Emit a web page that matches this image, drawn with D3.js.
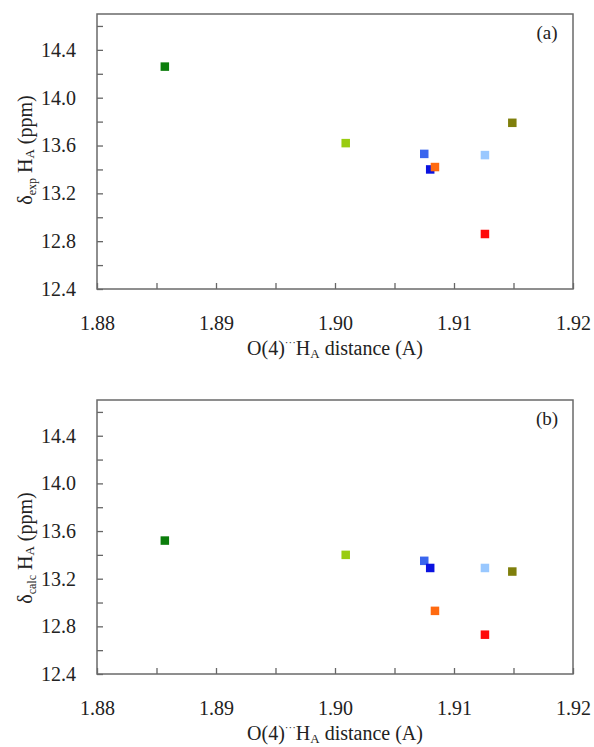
<!DOCTYPE html>
<html>
<head>
<meta charset="utf-8">
<script src="https://cdn.jsdelivr.net/npm/d3@7"></script>
<style>
  html, body { margin: 0; padding: 0; background: #fff; }
  svg { display: block; }
  svg text { font-family: "Liberation Serif", Tinos, "Times New Roman", Times, "DejaVu Serif", serif !important; fill: #222; }
</style>
</head>
<body>
<svg id="chart" width="594" height="747"></svg>
<script>
// O(4)···HA hydrogen-bond distance (Å) for each compound
const distances = [1.8857, 1.9009, 1.9075, 1.9080, 1.9084, 1.9126, 1.9126, 1.9149];
// experimental and calculated HA chemical shifts (ppm)
const expShift  = [14.26, 13.62, 13.53, 13.40, 13.42, 13.52, 12.86, 13.79];
const calcShift = [13.52, 13.40, 13.35, 13.29, 12.93, 13.29, 12.73, 13.26];
// marker colour per compound
const palette = ["#0b7d0b", "#99cc11", "#3a66ee", "#0a12e0", "#ff6a10", "#99c8ff", "#ff0a0a", "#7f7f0c"];
// axis ticks
const xMajor = [1.88, 1.89, 1.90, 1.91, 1.92];
const xMinor = [1.885, 1.895, 1.905, 1.915];
const yMajor = [12.4, 12.8, 13.2, 13.6, 14.0, 14.4];
const yMinor = [12.6, 13.0, 13.4, 13.8, 14.2, 14.6];

const svg = d3.select("#chart");
const left = 97, right = 573;

const panels = [
  { values: expShift,  sub: "exp",  tag: "(a)", top: 14,  bottom: 289, ylabY: 150 },
  { values: calcShift, sub: "calc", tag: "(b)", top: 400, bottom: 674, ylabY: 548 }
];

panels.forEach(p => {
  const x = d3.scaleLinear().domain([1.88, 1.92]).range([left, right]);
  const y = d3.scaleLinear().domain([12.4, 14.7]).range([p.bottom, p.top]);
  const g = svg.append("g");

  // x axis ticks pointing inward, labels on majors
  const xTicks = xMajor.concat(xMinor).sort(d3.ascending);
  const xAxis = d3.axisBottom(x).tickValues(xTicks).tickSize(-6).tickPadding(27)
    .tickFormat(d => xMajor.some(m => Math.abs(m - d) < 1e-9) ? d3.format(".2f")(d) : "");
  const gx = g.append("g").attr("transform", `translate(0,${p.bottom})`).call(xAxis);
  gx.select(".domain").remove();
  gx.selectAll("line").attr("stroke", "#666").attr("stroke-width", 1.3);
  gx.selectAll("text").attr("font-size", 20).attr("fill", "#222");

  const yTicks = yMajor.concat(yMinor).sort(d3.ascending);
  const yAxis = d3.axisLeft(y).tickValues(yTicks).tickSize(-6).tickPadding(21)
    .tickFormat(d => yMajor.some(m => Math.abs(m - d) < 1e-9) ? d3.format(".1f")(d) : "");
  const gy = g.append("g").attr("transform", `translate(${left},0)`).call(yAxis);
  gy.select(".domain").remove();
  gy.selectAll("line").attr("stroke", "#666").attr("stroke-width", 1.3);
  gy.selectAll("text").attr("font-size", 20).attr("fill", "#222");

  // plot frame
  g.append("rect")
    .attr("x", left).attr("y", p.top)
    .attr("width", right - left).attr("height", p.bottom - p.top)
    .attr("fill", "none").attr("stroke", "#6a6a6a").attr("stroke-width", 1.5);

  // markers
  const s = 8.5;
  g.selectAll("rect.pt").data(distances.map((d, i) => ({ d, v: p.values[i], c: palette[i] })))
    .join("rect").attr("class", "pt")
    .attr("x", o => x(o.d) - s / 2).attr("y", o => y(o.v) - s / 2)
    .attr("width", s).attr("height", s).attr("fill", o => o.c);

  // panel tag
  g.append("text").attr("x", 547).attr("y", p.top + 25)
    .attr("text-anchor", "middle").attr("font-size", 19).text(p.tag);

  // x axis title
  const xt = g.append("text").attr("x", (left + right) / 2).attr("y", p.bottom + 66)
    .attr("text-anchor", "middle").attr("font-size", 20);
  xt.append("tspan").text("O(4)");
  xt.append("tspan").attr("font-size", 11).attr("dy", -9).text("···");
  xt.append("tspan").attr("dy", 9).text("H");
  xt.append("tspan").attr("font-size", 13).attr("dy", 3).text("A");
  xt.append("tspan").attr("dy", -3).text(" distance (A)");

  // y axis title
  const yt = g.append("text")
    .attr("transform", `translate(32,${p.ylabY}) rotate(-90)`)
    .attr("text-anchor", "middle").attr("font-size", 20);
  yt.append("tspan").text("δ");
  yt.append("tspan").attr("font-size", 12).attr("dy", 4).text(p.sub);
  yt.append("tspan").attr("dy", -4).text(" H");
  yt.append("tspan").attr("font-size", 13).attr("dy", 2).text("A");
  yt.append("tspan").attr("dy", -2).text(" (ppm)");
});
</script>
</body>
</html>
